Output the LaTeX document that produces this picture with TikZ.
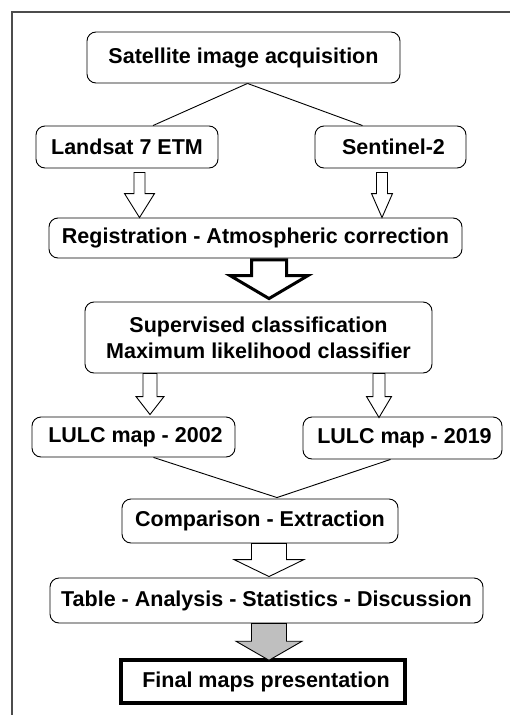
\documentclass[tikz,border=0pt]{standalone}
\usepackage{fontspec}
\setmainfont{Liberation Sans}
\usetikzlibrary{calc}
\tikzset{
  box/.style={draw, line width=0.9pt, rounded corners=9pt, inner sep=0pt, align=center,
    font=\fontsize{21.5}{26}\selectfont\bfseries},
  finalbox/.style={draw, line width=3.5pt, inner sep=0pt, align=center,
    font=\fontsize{21.5}{26}\selectfont\bfseries},
  link/.style={line width=0.9pt},
  hollow/.style={draw, line width=0.9pt, fill=white, line join=miter},
  boldarr/.style={draw, line width=3pt, fill=white, line join=miter},
  grayarr/.style={draw, line width=0.9pt, fill=black!25, line join=miter},
  frameline/.style={draw=black!70, line width=1.5pt}
}
\newcommand\barrow[6][]{\draw[#1] let \p1=(#2), \p2=(#3) in
  (\x2-#4pt,\y1) -- (\x2+#4pt,\y1) -- (\x2+#4pt,\y2+#6pt) -- (\x2+#5pt,\y2+#6pt)
  -- (\x2,\y2) -- (\x2-#5pt,\y2+#6pt) -- (\x2-#4pt,\y2+#6pt) -- cycle;}
\begin{document}
\begin{tikzpicture}[x=1pt,y=-1pt]
\useasboundingbox (0,0) rectangle (509,715);
\fill[white] (0,0) rectangle (509,715);
\draw[frameline] (12,716) -- (12,12) -- (510,12);

\node[box, minimum width=313, minimum height=51] (sat) at (243.5,57.5) {Satellite image acquisition};
\node[box, minimum width=182, minimum height=42] (landsat) at (127,147) {Landsat 7 ETM};
\node[box, minimum width=151, minimum height=42] (sent) at (390.5,147) {\hspace{6pt}Sentinel-2};
\node[box, minimum width=413, minimum height=40] (reg) at (255.5,238) {Registration - Atmospheric correction};
\node[box, minimum width=347, minimum height=71] (sup) at (258.5,337.5) {Supervised classification\\Maximum likelihood classifier};
\node[box, minimum width=203, minimum height=40] (l02) at (133.5,437) {\hspace{4pt}LULC map - 2002};
\node[box, minimum width=199, minimum height=42] (l19) at (402.5,438) {\hspace{4pt}LULC map - 2019};
\node[box, minimum width=276, minimum height=44] (comp) at (260,521) {Comparison - Extraction};
\node[box, minimum width=433, minimum height=45] (tab) at (266.5,600.5) {Table - Analysis - Statistics - Discussion};
\node[finalbox, minimum width=284, minimum height=43] (fin) at (263,681.5) {\hspace{6pt}Final maps presentation};

% thin links
\draw[link] ($(sat.south)+(4,0)$) -- ($(landsat.north)+(26,0)$);
\draw[link] ($(sat.south)+(4,0)$) -- ($(sent.north)+(-28,0)$);
\draw[link] ($(l02.south)+(20,0)$) coordinate (c1) -- ($(comp.north)+(17,-1)$) coordinate (cm);
\draw[link] ($(l19.south)+(-12,0)$) -- (cm);

% block arrows: start coordinate, end coordinate
\coordinate (a1s) at ($(landsat.south)+(12,4)$);
\coordinate (a1e) at ($(reg.north)+(-116,0)$);
\barrow[hollow]{a1s}{a1e}{5.5}{15}{24}
\coordinate (a2s) at ($(sent.south)+(-9,4)$);
\coordinate (a2e) at ($(reg.north)+(126.5,0)$);
\barrow[hollow]{a2s}{a2e}{5.5}{10.5}{24}
\coordinate (a3s) at ($(reg.south)+(0,1.5)$);
\coordinate (a3e) at ($(sup.north)+(10.5,-3)$);
\barrow[boldarr]{a3s}{a3e}{17.5}{39}{23}
\coordinate (a4s) at ($(sup.south)+(-108,0)$);
\coordinate (a4e) at ($(l02.north)+(16.5,-2)$);
\barrow[hollow]{a4s}{a4e}{7}{14}{18}
\coordinate (a5s) at ($(sup.south)+(120,0)$);
\coordinate (a5e) at ($(l19.north)+(-23.5,1)$);
\barrow[hollow]{a5s}{a5e}{6}{12.5}{21}
\coordinate (a6s) at ($(comp.south)+(0,0)$);
\coordinate (a6e) at ($(tab.north)+(2.5,-1)$);
\barrow[hollow]{a6s}{a6e}{17.5}{35}{17}
\coordinate (a7s) at ($(tab.south)+(0,0)$);
\coordinate (a7e) at ($(fin.north)+(6,2)$);
\barrow[grayarr]{a7s}{a7e}{17.5}{33}{19}
\end{tikzpicture}
\end{document}
